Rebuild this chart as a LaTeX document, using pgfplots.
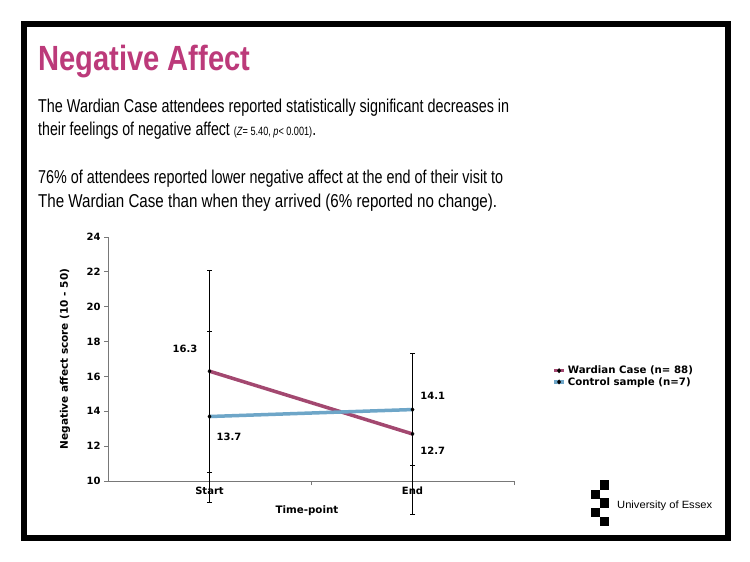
\documentclass[border=0pt]{standalone}
\usepackage{pgfplots}
\pgfplotsset{compat=1.18}
\usepackage{fontspec}
\setmainfont{Liberation Sans}
\newfontfamily\chartfont{DejaVu Sans}
\usepackage{graphicx}
\definecolor{titlec}{RGB}{188,58,122}
\definecolor{wardc}{RGB}{163,72,112}
\definecolor{ctrlc}{RGB}{110,166,200}
\definecolor{axgray}{RGB}{120,120,120}
\begin{document}
\begin{tikzpicture}[x=1pt,y=1pt]
\useasboundingbox (0,0) rectangle (750,-562);
\fill[white] (0,0) rectangle (750,-562);
\draw[line width=6pt] (23.5,-23.5) rectangle (727.5,-538);
% title and text
\node[anchor=base west,inner sep=0pt,text=titlec] at (38,-70) {\resizebox{212pt}{\height}{\fontsize{35}{40}\selectfont\bfseries Negative Affect}};
\node[anchor=base west,inner sep=0pt] at (38,-112) {\resizebox{471pt}{\height}{\fontsize{18.6}{22}\selectfont The Wardian Case attendees reported statistically significant decreases in}};
\node[anchor=base west,inner sep=0pt] at (38,-135) {\resizebox{278pt}{\height}{\fontsize{18.6}{22}\selectfont their feelings of negative affect {\fontsize{12}{14}\selectfont (\textit{Z}= 5.40, \textit{p}< 0.001)}.}};
\node[anchor=base west,inner sep=0pt] at (38,-183) {\resizebox{465pt}{\height}{\fontsize{18.6}{22}\selectfont 76\% of attendees reported lower negative affect at the end of their visit to}};
\node[anchor=base west,inner sep=0pt] at (38,-207) {\resizebox{459pt}{\height}{\fontsize{18.6}{22}\selectfont The Wardian Case than when they arrived (6\% reported no change).}};
% logo
\fill (600,-480) rectangle (609.3,-490);
\fill (590.7,-490) rectangle (600,-499.3);
\fill (600,-498) rectangle (609.3,-507.7);
\fill (590.7,-507.7) rectangle (600,-516.7);
\fill (600,-516.7) rectangle (609.3,-525.7);
\node[anchor=base west,inner sep=0pt] at (617,-508) {\resizebox{95pt}{\height}{\fontsize{10.5}{12}\selectfont University of Essex}};
% chart
\begin{axis}[
  at={(108pt,-481pt)}, anchor=south west,
  scale only axis, width=406pt, height=244pt,
  xmin=0.5, xmax=2.5, ymin=10, ymax=24,
  ytick={10,12,...,24},
  xtick={1.5,2.5}, xticklabels={},
  extra x ticks={1,2}, extra x tick labels={Start,End},
  extra x tick style={major tick length=0pt},
  axis x line*=bottom, axis y line*=left,
  axis line style={draw=axgray,-, line width=0.9pt},
  tick align=outside, major tick length=4pt,
  every tick/.style={draw=axgray, line width=0.8pt},
  ticklabel style={font=\chartfont\bfseries\fontsize{10}{12}\selectfont},
  /pgf/number format/assume math mode=true,
  yticklabel style={xshift=0pt},
  xticklabel style={yshift=-2.5pt},
  xlabel={Time-point}, ylabel={Negative affect score (10 - 50)},
  every axis x label/.style={at={(axis description cs:0.49,-0.123)},anchor=center,font=\chartfont\bfseries\fontsize{10.3}{12}\selectfont},
  every axis y label/.style={at={(axis description cs:-0.106,0.5)},rotate=90,anchor=center,font=\chartfont\bfseries\fontsize{10.5}{12}\selectfont},
  clip=false,
  legend style={at={(axis description cs:1.094,0.48)}, anchor=north west, draw=none, fill=none,
    font=\chartfont\bfseries\fontsize{10.2}{11}\selectfont, inner sep=0pt, row sep=-2pt,
    /tikz/every even column/.append style={column sep=2pt}},
  legend cell align=left,
  legend image code/.code={\draw[mark repeat=2,mark phase=2,#1] plot coordinates {(0pt,0pt)(5pt,0pt)(10pt,0pt)};},
]
\addplot[wardc, line width=3.5pt, mark=diamond*, mark size=2.2pt,
  mark options={fill=black,draw=black,line width=0.4pt},
  error bars/.cd, y dir=both, y explicit,
  error bar style={black, line width=0.8pt},
  error mark options={black, line width=0.8pt, mark size=2.5pt, rotate=90}]
  coordinates {(1,16.3) +- (0,5.8) (2,12.7) +- (0,4.6)};
\addlegendentry{Wardian Case (n= 88)}
\addplot[ctrlc, line width=3.5pt, mark=diamond*, mark size=2.2pt,
  mark options={fill=black,draw=black,line width=0.4pt},
  error bars/.cd, y dir=both, y explicit,
  error bar style={black, line width=0.8pt},
  error mark options={black, line width=0.8pt, mark size=2.5pt, rotate=90}]
  coordinates {(1,13.7) +- (0,4.9) (2,14.1) +- (0,3.2)};
\addlegendentry{Control sample (n=7)}
\node[font=\chartfont\bfseries\fontsize{10}{12}\selectfont] at (axis cs:0.879,17.57) {16.3};
\node[font=\chartfont\bfseries\fontsize{10}{12}\selectfont] at (axis cs:1.096,12.52) {13.7};
\node[font=\chartfont\bfseries\fontsize{10}{12}\selectfont] at (axis cs:2.10,14.88) {14.1};
\node[font=\chartfont\bfseries\fontsize{10}{12}\selectfont] at (axis cs:2.10,11.72) {12.7};
\end{axis}
\end{tikzpicture}
\end{document}
